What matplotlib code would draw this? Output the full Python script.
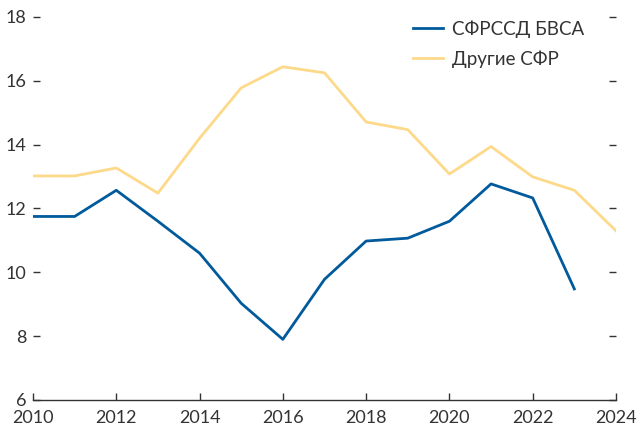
import matplotlib
matplotlib.use("Agg")
import matplotlib.pyplot as plt

years = list(range(2010, 2025))
sfr_bvsa = [11.75, 11.75, 12.57, 11.6, 10.6, 9.03, 7.9, 9.78, 10.98, 11.07, 11.6, 12.77, 12.33, 9.48]
other_sfr = [13.02, 13.02, 13.27, 12.48, 14.2, 15.78, 16.44, 16.25, 14.71, 14.47, 13.08, 13.94, 12.99, 12.57, 11.3]

BLUE = "#005a9c"
YELLOW = "#fdd98a"
TEXT = "#333333"

plt.rcParams["font.family"] = ["Lato", "DejaVu Sans"]

fig = plt.figure(figsize=(6.38, 4.30), dpi=100)
ax = fig.add_axes([0.0517, 0.0698, 0.9138, 0.8907])

ax.plot(years[:len(sfr_bvsa)], sfr_bvsa, color=BLUE, lw=2.0, label="СФРССД БВСА")
ax.plot(years, other_sfr, color=YELLOW, lw=2.0, label="Другие СФР")

ax.set_xlim(2010, 2024)
ax.set_ylim(6, 18)
ax.set_xticks(range(2010, 2025, 2))
ax.set_yticks(range(6, 19, 2))

for s in ("top", "left", "right"):
    ax.spines[s].set_visible(False)
ax.spines["bottom"].set_color(TEXT)
ax.spines["bottom"].set_linewidth(1.0)

ax.tick_params(axis="x", direction="in", length=5, width=1, color=TEXT,
               labelcolor=TEXT, labelsize=13, pad=7)
ax.tick_params(axis="y", direction="in", length=5, width=1, color=TEXT,
               labelcolor=TEXT, labelsize=13, pad=5, right=True)

leg = ax.legend(loc="upper right", bbox_to_anchor=(0.975, 1.035), frameon=False,
                fontsize=13.5, handlelength=1.6, handletextpad=0.5, labelspacing=0.65)
for t in leg.get_texts():
    t.set_color(TEXT)

fig.savefig("out.png", dpi=100)
